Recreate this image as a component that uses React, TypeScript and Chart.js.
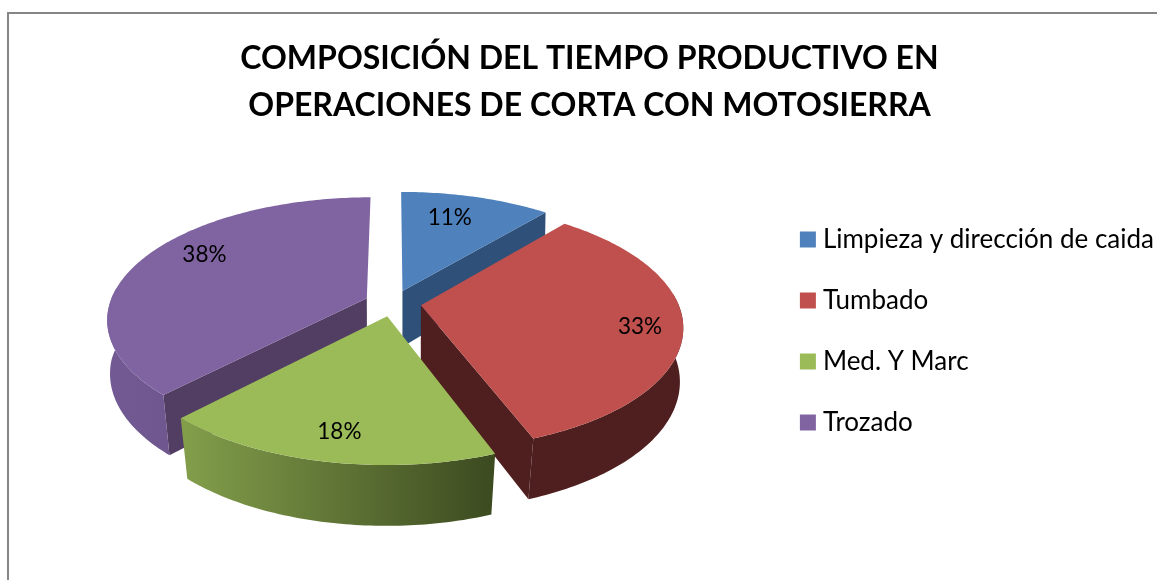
import React, { useEffect, useRef } from "react";
import { Chart, registerables } from "chart.js";

Chart.register(...registerables);

const titleLines = ["COMPOSICIÓN DEL TIEMPO PRODUCTIVO EN", "OPERACIONES DE CORTA CON MOTOSIERRA"];
const categories = ["Limpieza y dirección de caida", "Tumbado", "Med. Y Marc", "Trozado"];
const shares = [11.1, 33.2, 17.8, 37.9];
const topColors = ["#4F81BD", "#C0504D", "#9BBB59", "#8064A2"];
const cutWallColors = ["#2F5078", "#4E1F1E", "#5A6E33", "#523D63"];
const rimLeftColors = ["#2F5078", "#4E1F1E", "#839F4B", "#735A94"];
const rimRightColors = ["#2F5078", "#4E1F1E", "#3C4A20", "#5F4A7A"];
const labelAngleFractions = [0.42, 0.52, 0.49, 0.56];
const labelRadiusFractions = [0.74, 0.84, 0.82, 0.79];

const FONT = "Lato, Carlito, 'Open Sans', sans-serif";
const VIEW = {
  shiftX: 0,
  shiftY: -57.5,
  radius: 257,
  tilt: 119.2,
  camera: 6,
  depth: 57,
  shrinkBase: 0.006,
  shrinkFront: 0.03,
};

const pie3d = {
  id: "pie3d",
  beforeDraw(chart: any) {
    const { ctx, width, height } = chart;
    ctx.save();
    ctx.fillStyle = "#FFFFFF";
    ctx.fillRect(0, 0, width, height);
    ctx.fillStyle = "#868686";
    ctx.fillRect(7, 12, width - 7, 2);
    ctx.fillRect(7, 12, 2, height - 12);
    ctx.restore();
  },
  beforeDatasetDraw(chart: any, args: any) {
    const { ctx } = chart;
    const arcs = args.meta.data as any[];
    const project = (arc: any, wx: number, wy: number, z: number) => {
      const p = VIEW.camera / (VIEW.camera - wy);
      const s = 1 - z * (VIEW.shrinkBase + VIEW.shrinkFront * Math.max(0, wy));
      return [
        arc.x + VIEW.shiftX + wx * VIEW.radius * p * s,
        arc.y + VIEW.shiftY + (wy * VIEW.tilt + z * VIEW.depth) * p * s,
      ];
    };
    const slices = arcs.map((arc, i) => {
      const mid = (arc.startAngle + arc.endAngle) / 2;
      const off = arc.options.offset / arc.outerRadius;
      const ax = off * Math.cos(mid);
      const ay = off * Math.sin(mid);
      const at = (angle: number, r: number, z: number) =>
        project(arc, ax + r * Math.cos(angle), ay + r * Math.sin(angle), z);
      return { arc, i, mid, at };
    });
    const polygon = (pts: number[][], fill: any) => {
      ctx.beginPath();
      pts.forEach((pt, k) => (k ? ctx.lineTo(pt[0], pt[1]) : ctx.moveTo(pt[0], pt[1])));
      ctx.closePath();
      ctx.fillStyle = fill;
      ctx.fill();
    };
    const arcAngles = (s: any) => {
      const { startAngle, endAngle } = s.arc;
      const n = Math.max(8, Math.ceil((endAngle - startAngle) * 60));
      const out: number[] = [];
      for (let k = 0; k <= n; k++) out.push(startAngle + ((endAngle - startAngle) * k) / n);
      return out;
    };
    ctx.save();
    [...slices]
      .sort((a, b) => Math.sin(a.mid) - Math.sin(b.mid))
      .forEach((s) => {
        const { startAngle, endAngle } = s.arc;
        const walls: [number, number][] = [
          [startAngle, -1],
          [endAngle, 1],
        ];
        for (const [angle, sign] of walls) {
          const apex = s.at(0, 0, 0);
          const outer = s.at(angle, 1, 0);
          const low = s.at(angle, 1, 1);
          const ex = outer[0] - apex[0];
          const ey = outer[1] - apex[1];
          const dx = low[0] - outer[0];
          const dy = low[1] - outer[1];
          const facing = (sign * (ex * dy - ey * dx)) / (Math.hypot(ex, ey) * Math.hypot(dx, dy));
          if (facing > 0.1) polygon([apex, outer, low, s.at(0, 0, 1)], cutWallColors[s.i]);
        }
        const angles = arcAngles(s);
        const top = angles.map((a: number) => s.at(a, 1, 0));
        const front = angles.filter((a: number) => Math.sin(a) > -0.1);
        if (front.length > 1) {
          const xs = top.map((pt: number[]) => pt[0]);
          const g = ctx.createLinearGradient(Math.min(...xs), 0, Math.max(...xs), 0);
          g.addColorStop(0, rimLeftColors[s.i]);
          g.addColorStop(1, rimRightColors[s.i]);
          const upper = front.map((a: number) => s.at(a, 1, 0));
          const lower = front.map((a: number) => s.at(a, 1, 1)).reverse();
          polygon([...upper, ...lower], g);
        }
        polygon([s.at(0, 0, 0), ...top], topColors[s.i]);
      });
    ctx.fillStyle = "#000000";
    ctx.font = `22.5px ${FONT}`;
    ctx.textAlign = "center";
    ctx.textBaseline = "middle";
    slices.forEach((s) => {
      const { startAngle, endAngle } = s.arc;
      const angle = startAngle + (endAngle - startAngle) * labelAngleFractions[s.i];
      const pt = s.at(angle, labelRadiusFractions[s.i], 0);
      ctx.fillText(`${Math.round(shares[s.i])}%`, pt[0], pt[1]);
    });
    ctx.restore();
    return false;
  },
};

export default function App() {
  const ref = useRef<HTMLCanvasElement>(null);
  useEffect(() => {
    document.body.style.margin = "0";
    const chart = new Chart(ref.current as HTMLCanvasElement, {
      type: "pie",
      data: {
        labels: categories,
        datasets: [
          {
            data: shares,
            backgroundColor: topColors,
            borderColor: topColors,
            borderWidth: 12,
            offset: 22.3,
          },
        ],
      },
      options: {
        animation: false,
        responsive: false,
        layout: { padding: { left: 15, right: -7, bottom: -82 } },
        plugins: {
          title: {
            display: true,
            text: titleLines,
            color: "#000000",
            font: { family: FONT, size: 32, weight: "bold", lineHeight: 1.47 },
            padding: { top: 35, bottom: 12 },
          },
          legend: {
            position: "right",
            labels: {
              boxWidth: 4,
              boxHeight: 4,
              padding: 35,
              color: "#000000",
              font: { family: FONT, size: 26 },
            },
          },
          tooltip: { enabled: false },
        },
      },
      plugins: [pie3d],
    } as any);
    return () => chart.destroy();
  }, []);
  return (
    <div style={{ position: "absolute", left: 0, top: 0, width: 1157, height: 580 }}>
      <canvas ref={ref} width={1157} height={580} style={{ display: "block" }} />
    </div>
  );
}
